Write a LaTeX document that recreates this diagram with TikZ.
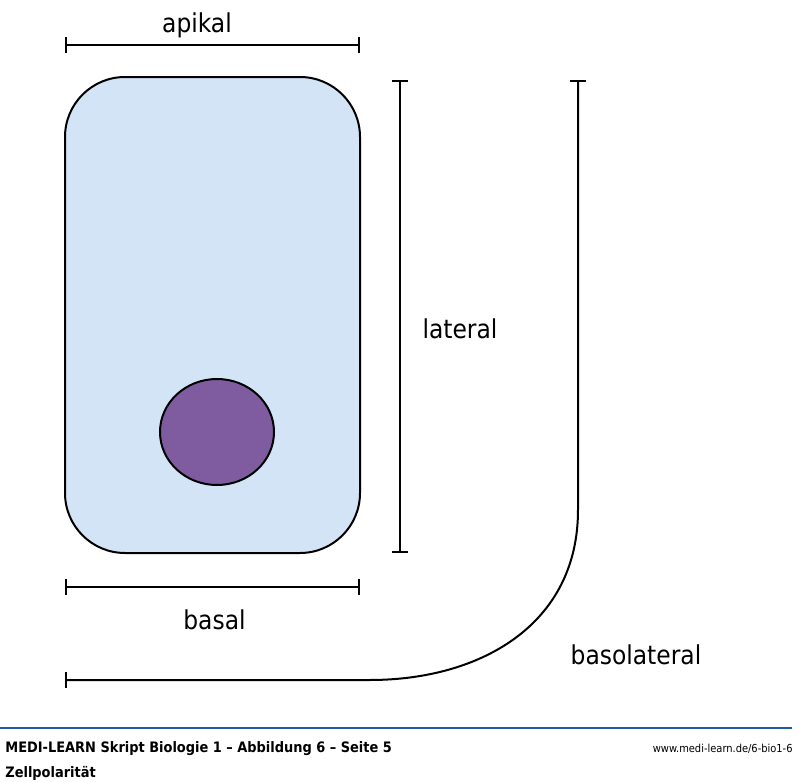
\documentclass[tikz,border=0pt]{standalone}
\usepackage{fontspec}
\setmainfont{DejaVu Sans Condensed}
\usetikzlibrary{positioning, arrows.meta, calc, shapes}
\definecolor{cellBlue}{HTML}{D4E4F7}
\definecolor{nucleusPurple}{HTML}{7F5BA0}
\definecolor{footerBlue}{HTML}{1F5BAA}
\tikzstyle{dimbar} =[{Bar[width=8pt]}-{Bar[width=8pt]}, line width=1pt, black]
\tikzstyle{dimlabel} =[anchor=base, font=\fontsize{13}{15}\selectfont]
\tikzstyle{foottext} =[font=\fontsize{7.2}{8}\selectfont, inner sep=0pt]

\begin{document}
\begin{tikzpicture}[x=0.5pt, y=-0.5pt]
\useasboundingbox (0,0) rectangle (800,782);

\node (cell) [draw, line width=1pt, fill=cellBlue, rounded corners=30pt, minimum width=147.5pt, minimum height=238pt, inner sep=0pt] at (212.5,315) {};
\node (nucleus) [ellipse, draw, line width=1pt, fill=nucleusPurple, minimum width=57pt, minimum height=53pt, inner sep=0pt] at (217,432) {};

%apical / basal
\coordinate (apikalL) at (65,45);
\coordinate (apikalR) at (360,45);
\draw[dimbar] (apikalL) -- (apikalR);
\node (apikalLbl) [dimlabel] at (197,32) {apikal};

\coordinate (basalL) at (65,587);
\coordinate (basalR) at (360,587);
\draw[dimbar] (basalL) -- (basalR);
\node (basalLbl) [dimlabel] at (214.5,629) {basal};

%lateral
\coordinate (lateralT) at (400,80);
\coordinate (lateralB) at (400,553);
\draw[dimbar] (lateralT) -- (lateralB);
\node (lateralLbl) [dimlabel] at (460,338) {lateral};

%basolateral
\coordinate (basoT) at (578,80);
\coordinate (basoBend) at (578,510);
\coordinate (basoFoot) at (370,680);
\coordinate (basoL) at (65,680);
\draw[dimbar] (basoT) -- (basoBend) .. controls (578,625) and (480,680) .. (basoFoot) -- (basoL);
\node (basoLbl) [dimlabel] at (636,664) {basolateral};

%footer
\coordinate (footL) at (0,728);
\coordinate (footR) at (792,728);
\draw[footerBlue, line width=1pt] (footL) -- (footR);
\node (footTitle) [foottext, anchor=base west] at (5,752) {\bfseries MEDI-LEARN Skript Biologie 1 – Abbildung 6 – Seite 5};
\node (footSub) [foottext, anchor=base west] at (5,777) {\bfseries Zellpolarität};
\node (footUrl) [foottext, anchor=base east, font=\fontsize{5.5}{7}\selectfont] at (793,752) {www.medi-learn.de/6-bio1-6};
\end{tikzpicture}
\end{document}
